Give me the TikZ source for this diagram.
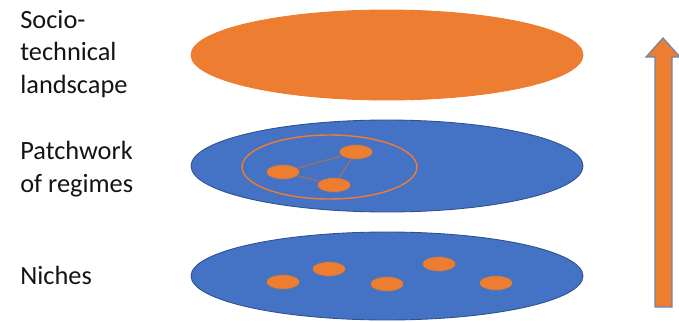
\documentclass[tikz,border=0pt]{standalone}
\usepackage{fontspec}
\setmainfont{Carlito}
\usepackage{tikz}
\usetikzlibrary{shapes.geometric, positioning}
\definecolor{MLBlue}{RGB}{68,114,196}
\definecolor{MLBlueLine}{RGB}{47,82,143}
\definecolor{MLOrange}{RGB}{237,125,49}
\definecolor{MLLink}{RGB}{190,110,70}
\definecolor{MLText}{RGB}{20,20,20}

\begin{document}
\begin{tikzpicture}[x=0.02cm, y=-0.02cm,
      layer/.style={ellipse, inner sep=0pt, minimum width=7.84cm,
                    minimum height=1.8cm, line width=0.5pt},
      actor/.style={ellipse, inner sep=0pt, minimum width=0.68cm,
                    minimum height=0.3cm, fill=MLOrange,
                    draw=MLBlueLine!80, line width=0.6pt},
      lbl/.style={anchor=west, align=left, inner sep=0pt, text=MLText,
                  font=\fontsize{15}{18.7}\selectfont}
    ]
    \useasboundingbox (0,0) rectangle (679,321);

    % Landscape
    \node[layer, fill=MLOrange, draw=MLOrange] (landscape) at (387,55) {};

    % Regimes
    \node[layer, fill=MLBlue, draw=MLBlueLine, minimum height=1.84cm] (regimes) at (387,166) {};
    \node[ellipse, inner sep=0pt, minimum width=3.5cm, minimum height=1.28cm,
          draw=MLOrange, line width=0.8pt] (patch) at (329.5,167) {};
    \node[actor] (ra) at (283,172) {};
    \node[actor] (rb) at (356,152) {};
    \node[actor] (rc) at (334,185) {};
    \draw[MLLink, line width=0.5pt] (ra) -- (rb) (rb) -- (rc) (rc) -- (ra);

    % Niches
    \node[layer, fill=MLBlue, draw=MLBlueLine, minimum height=1.76cm] (niches) at (387,276) {};
    \node[actor] (na) at (283,282) {};
    \node[actor] (nb) at (329,269) {};
    \node[actor] (nc) at (387,284) {};
    \node[actor] (nd) at (439,264) {};
    \node[actor] (ne) at (496,283) {};

    % Labels
    \node[lbl] (tland) at (20,54) {Socio-\\technical\\landscape};
    \node[lbl] (treg) at (20,169) {Patchwork\\of regimes};
    \node[lbl] (tniche) at (20,275) {Niches};

    % Upward arrow
    \draw[fill=MLOrange, draw=MLBlueLine!70, line width=0.7pt, line join=miter]
      (655,307) -- (655,57) -- (646,57) -- (663,38) -- (680,57)
      -- (672,57) -- (672,307) -- cycle;
  \end{tikzpicture}
\end{document}
